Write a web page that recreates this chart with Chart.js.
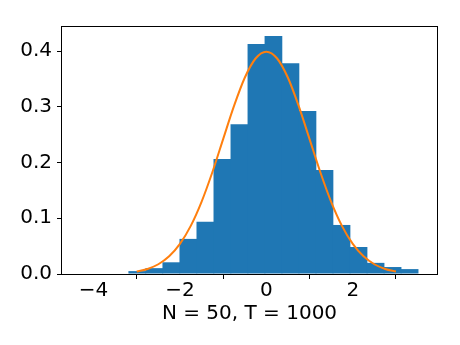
<!DOCTYPE html>
<html>
<head>
<meta charset="utf-8">
<script src="https://cdn.jsdelivr.net/npm/chart.js@4/dist/chart.umd.min.js"></script>
<style>
  body { margin: 0; background: #fff; }
</style>
</head>
<body>
<canvas id="chart" width="460" height="345"></canvas>
<script>
// histogram bins (centres) and density heights
const binCenters = [-2.988, -2.594, -2.200, -1.806, -1.412, -1.018, -0.624, -0.230, 0.164,
                    0.558, 0.952, 1.346, 1.740, 2.134, 2.528, 2.922, 3.316];
const binHeights = [0.0052, 0.0105, 0.0210, 0.0630, 0.0938, 0.2062, 0.2688, 0.4125, 0.4272,
                    0.3782, 0.2925, 0.1865, 0.0880, 0.0485, 0.0200, 0.0125, 0.0088];

// standard normal curve
const curveX = [-3, -2.75, -2.5, -2.25, -2, -1.75, -1.5, -1.25, -1, -0.75, -0.5, -0.25, 0,
                0.25, 0.5, 0.75, 1, 1.25, 1.5, 1.75, 2, 2.25, 2.5, 2.75, 3];
const curveY = [0.0044, 0.0091, 0.0175, 0.0317, 0.0540, 0.0863, 0.1295, 0.1826, 0.2420, 0.3011,
                0.3521, 0.3867, 0.3989, 0.3867, 0.3521, 0.3011, 0.2420, 0.1826, 0.1295, 0.0863,
                0.0540, 0.0317, 0.0175, 0.0091, 0.0044];

const xTicks = [-4, -2, 0, 2];
const yTicks = [0, 0.1, 0.2, 0.3, 0.4];
const xLabel = "N = 50, T = 1000";

Chart.defaults.font.family = "'DejaVu Sans', sans-serif";
Chart.defaults.font.size = 20;
Chart.defaults.color = "#000";

// box around the plot area, like matplotlib spines
const frame = {
  id: "frame",
  afterDatasetsDraw(chart) {
    const a = chart.chartArea;
    const ctx = chart.ctx;
    ctx.save();
    ctx.strokeStyle = "#000";
    ctx.lineWidth = 1;
    ctx.strokeRect(Math.round(a.left) - 0.5, Math.round(a.top) + 0.5,
      Math.round(a.right - a.left) + 1, Math.round(a.bottom - a.top));
    ctx.restore();
  }
};

const ctx = document.getElementById("chart").getContext("2d");
new Chart(ctx, {
  type: "bar",
  data: {
    datasets: [
      {
        type: "line",
        data: curveX.map((x, i) => ({ x: x, y: curveY[i] })),
        borderColor: "#ff7f0e",
        borderWidth: 2,
        pointRadius: 0,
        cubicInterpolationMode: "monotone",
        fill: false,
        order: 0,
      },
      {
        type: "bar",
        data: binCenters.map((x, i) => ({ x: x, y: binHeights[i] })),
        backgroundColor: "#1f77b4",
        borderWidth: 0,
        barPercentage: 1.04,
        categoryPercentage: 1,
        order: 1,
      },
    ],
  },
  options: {
    responsive: false,
    animation: false,
    layout: { padding: { left: 0, right: 23, top: 26, bottom: 0 } },
    plugins: { legend: { display: false }, tooltip: { enabled: false } },
    scales: {
      x: {
        type: "linear",
        min: -4.73,
        max: 3.95,
        offset: false,
        afterBuildTicks: (s) => { s.ticks = xTicks.map((v) => ({ value: v })); },
        afterFit: (s) => { s.height = 71; },
        ticks: {
          padding: 0,
          maxRotation: 0,
          callback: (v) => String(v).replace("-", "\u2212"),
        },
        grid: { drawOnChartArea: false, drawTicks: true, tickLength: 5, tickColor: "#000" },
        border: { display: false },
        title: { display: true, text: xLabel, padding: { top: 0, bottom: 19 } },
      },
      y: {
        min: 0,
        max: 0.445,
        afterBuildTicks: (s) => { s.ticks = yTicks.map((v) => ({ value: v })); },
        afterFit: (s) => { s.width = 62; },
        ticks: { padding: 5, callback: (v) => v.toFixed(1) },
        grid: { drawOnChartArea: false, drawTicks: true, tickLength: 5, tickColor: "#000" },
        border: { display: false },
      },
    },
  },
  plugins: [frame],
});
</script>
</body>
</html>
